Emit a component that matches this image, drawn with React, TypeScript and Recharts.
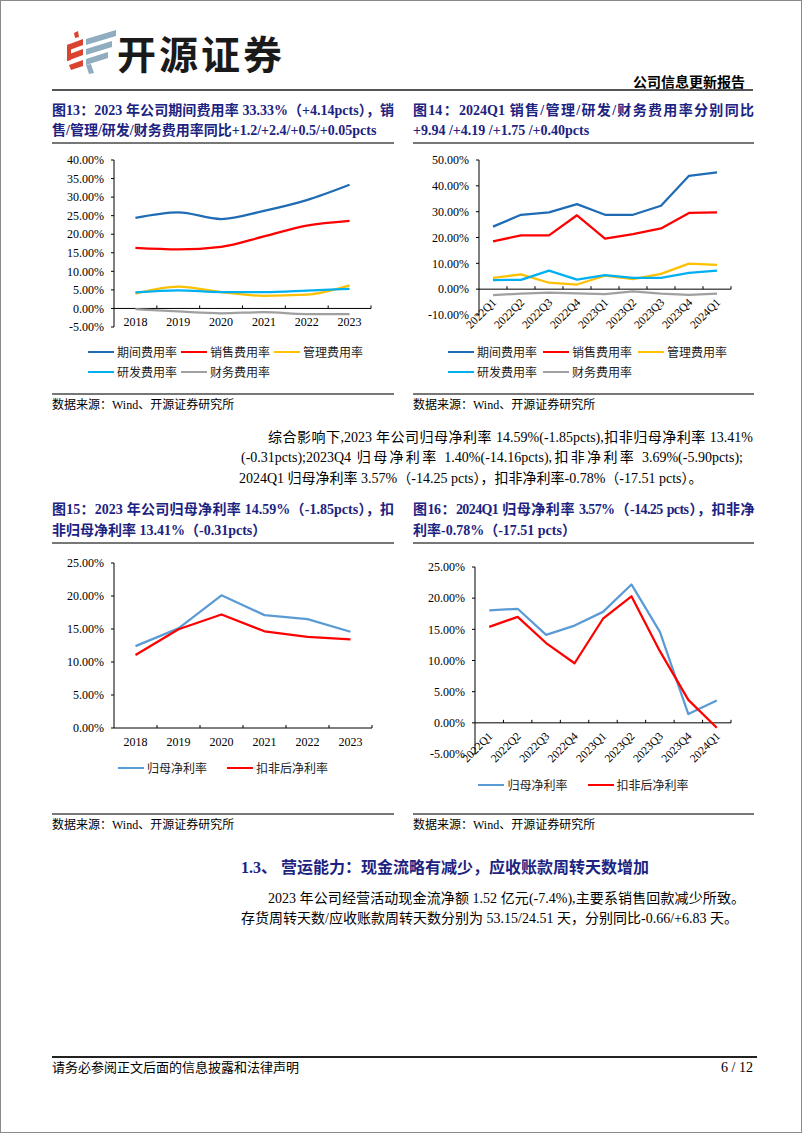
import React from "react";
import { LineChart, Line, XAxis, YAxis, ReferenceLine, Legend } from "recharts";

const SERIF = '"Liberation Serif", "Times New Roman", serif';
const CJK = '"Liberation Serif", "Noto Sans CJK SC", serif';
const NAVY = "#1c2381";

// categories
const years = ["2018", "2019", "2020", "2021", "2022", "2023"];
const quarters = ["2022Q1", "2022Q2", "2022Q3", "2022Q4", "2023Q1", "2023Q2", "2023Q3", "2023Q4", "2024Q1"];

// 图13 annual expense ratios (%)
const periodRateY = [24.4, 25.9, 24.1, 26.3, 29.2, 33.33];
const salesRateY = [16.3, 15.9, 16.6, 19.4, 22.3, 23.6];
const adminRateY = [4.0, 5.9, 4.4, 3.4, 3.7, 6.2];
const rdRateY = [4.3, 4.9, 4.4, 4.4, 4.8, 5.3];
const finRateY = [-0.2, -0.8, -1.3, -1.0, -1.5, -1.5];

// 图14 quarterly expense ratios (%)
const periodRateQ = [24.2, 28.8, 29.7, 32.9, 28.8, 28.8, 32.3, 43.9, 45.2];
const salesRateQ = [18.5, 20.8, 20.8, 28.6, 19.6, 21.3, 23.5, 29.5, 29.7];
const adminRateQ = [4.4, 5.7, 2.5, 1.8, 5.2, 3.9, 5.9, 9.9, 9.4];
const rdRateQ = [3.5, 3.6, 7.2, 3.7, 5.4, 4.4, 4.4, 6.3, 7.2];
const finRateQ = [-2.3, -1.7, -1.3, -1.6, -1.9, -0.9, -1.7, -2.2, -1.7];

// 图15 annual net margins (%)
const netMarginY = [12.4, 15.1, 20.1, 17.1, 16.5, 14.59];
const deductedMarginY = [11.05, 14.96, 17.2, 14.65, 13.8, 13.41];

// 图16 quarterly net margins (%)
const netMarginQ = [18.06, 18.3, 14.1, 15.6, 17.8, 22.2, 14.6, 1.4, 3.57];
const deductedMarginQ = [15.4, 17.0, 12.8, 9.56, 16.7, 20.3, 11.5, 3.69, -0.78];

// y ticks
const ticks13 = [-5, 0, 5, 10, 15, 20, 25, 30, 35, 40];
const ticks14 = [-10, 0, 10, 20, 30, 40, 50];
const ticks15 = [0, 5, 10, 15, 20, 25];
const ticks16 = [-5, 0, 5, 10, 15, 20, 25];

const expenseNames = ["期间费用率", "销售费用率", "管理费用率", "研发费用率", "财务费用率"];
const expenseColors = ["#1f6cb5", "#ff0000", "#ffc000", "#00b0f0", "#a0a0a0"];
const marginNames = ["归母净利率", "扣非后净利率"];
const marginColors = ["#5b9bd5", "#ff0000"];

type SeriesDef = { key: string; name: string; color: string; values: number[] };

type ChartProps = {
  categories: string[];
  series: SeriesDef[];
  width: number;
  height: number;
  top: number;
  bottom: number;
  right: number;
  yWidth: number;
  domain: [number, number];
  ticks: number[];
  xAxisHeight: number;
  legendHeight: number;
  legendPadLeft?: number;
  legendItemWidth?: number;
  legendCenter?: boolean;
  rotate?: boolean;
  curve?: "linear" | "monotone";
};

function RateChart(p: ChartProps) {
  const data = p.categories.map((c, i) => {
    const row: Record<string, string | number> = { name: c };
    p.series.forEach((s) => {
      row[s.key] = s.values[i];
    });
    return row;
  });

  const plotH = p.height - p.top - p.bottom - p.legendHeight - p.xAxisHeight;
  const plotW = p.width - p.yWidth - p.right;
  const band = plotW / p.categories.length;
  // category axis sits on the 0% line, not at the bottom of the plot
  const zeroShift = (plotH * (0 - p.domain[0])) / (p.domain[1] - p.domain[0]);

  const renderTick = (tp: any) => {
    const { x, y, payload } = tp;
    const zy = y - zeroShift;
    const mx = x + band / 2;
    return (
      <g>
        <line x1={mx} x2={mx} y1={zy} y2={zy - 3} stroke="#000" strokeWidth={1} />
        {p.rotate ? (
          <text
            x={x + 4}
            y={zy + 14}
            transform={`rotate(-45 ${x + 4} ${zy + 14})`}
            textAnchor="end"
            fontSize={11.5}
            fontFamily={SERIF}
            fill="#000"
          >
            {payload.value}
          </text>
        ) : (
          <text x={x} y={zy + 18} textAnchor="middle" fontSize={12} fontFamily={SERIF} fill="#000">
            {payload.value}
          </text>
        )}
      </g>
    );
  };

  const legend = () => (
    <div
      style={{
        height: p.legendHeight,
        display: "flex",
        flexWrap: "wrap",
        alignContent: "flex-start",
        justifyContent: p.legendCenter ? "center" : "flex-start",
        columnGap: p.legendCenter ? 20 : 0,
        paddingLeft: p.legendPadLeft ?? 0,
        boxSizing: "border-box",
      }}
    >
      {p.series.map((s) => (
        <div key={s.key} style={{ display: "flex", alignItems: "center", height: 20, width: p.legendItemWidth }}>
          <span style={{ display: "inline-block", width: 26, height: 0, borderTop: `2.5px solid ${s.color}`, marginRight: 3 }} />
          <span style={{ fontSize: 12, fontFamily: CJK, color: "#222", whiteSpace: "nowrap" }}>{s.name}</span>
        </div>
      ))}
    </div>
  );

  return (
    <LineChart width={p.width} height={p.height} data={data} margin={{ top: p.top, right: p.right, bottom: p.bottom, left: 0 }}>
      <XAxis
        dataKey="name"
        height={p.xAxisHeight}
        padding={{ left: band / 2, right: band / 2 }}
        axisLine={false}
        tickLine={false}
        tickSize={0}
        tickMargin={0}
        interval={0}
        tick={renderTick}
      />
      <YAxis
        width={p.yWidth}
        domain={p.domain}
        ticks={p.ticks}
        interval={0}
        axisLine={{ stroke: "#000" }}
        tickLine={{ stroke: "#000" }}
        tickSize={3}
        tickMargin={7}
        tick={{ fontSize: 12, fontFamily: SERIF, fill: "#000" }}
        tickFormatter={(v: number) => `${v.toFixed(2)}%`}
      />
      <ReferenceLine y={0} stroke="#000" strokeWidth={1} />
      {p.series.map((s) => (
        <Line
          key={s.key}
          dataKey={s.key}
          name={s.name}
          type={p.curve ?? "linear"}
          stroke={s.color}
          strokeWidth={2.25}
          strokeLinejoin="round"
          dot={false}
          activeDot={false}
          isAnimationActive={false}
        />
      ))}
      <Legend verticalAlign="bottom" content={legend} wrapperStyle={{ left: 0, width: p.width }} />
    </LineChart>
  );
}

const expenseSeries = (vals: number[][]): SeriesDef[] =>
  vals.map((v, i) => ({ key: `s${i}`, name: expenseNames[i], color: expenseColors[i], values: v }));
const marginSeries = (vals: number[][]): SeriesDef[] =>
  vals.map((v, i) => ({ key: `m${i}`, name: marginNames[i], color: marginColors[i], values: v }));

const Txt = ({ x, y, w, size = 14, bold = false, color = "#000", align = "left", justify = false, spacing = 0, family = CJK, children }: any) => (
  <div
    style={{
      position: "absolute",
      left: x,
      top: y - 10,
      width: w,
      height: 20,
      lineHeight: "20px",
      fontSize: size,
      fontWeight: bold ? 700 : 400,
      letterSpacing: spacing,
      color,
      fontFamily: family,
      textAlign: justify ? "justify" : align,
      textAlignLast: justify ? "justify" : align,
      whiteSpace: justify ? "normal" : "nowrap",
    }}
  >
    {children}
  </div>
);

const Rule = ({ x, y, w, h = 2, color = "#777" }: any) => (
  <div style={{ position: "absolute", left: x, top: y - h / 2, width: w, height: h, background: color }} />
);

const Box = ({ x, y, children }: any) => <div style={{ position: "absolute", left: x, top: y }}>{children}</div>;

const Logo = () => (
  <svg width={56} height={46} style={{ position: "absolute", left: 63, top: 28 }}>
    <polygon points="10,4 14,2 15,8 11,9" fill="#d9432f" />
    <polygon points="3,16 19,10 19,16 3,22" fill="#d9432f" />
    <polygon points="3,26 19,20 19,26 3,32" fill="#d9432f" />
    <polygon points="5,36 19,31 19,37 7,41" fill="#d9432f" />
    <polygon points="3,16 7,15 7,31 3,32" fill="#d9432f" />
    <polygon points="22,10 52,1 52,7 22,16" fill="#8fadbf" />
    <polygon points="22,20 48,12 48,18 22,26" fill="#8fadbf" />
    <polygon points="22,30 44,23 44,29 22,36" fill="#8fadbf" />
    <polygon points="22,36 27,35 30,44 25,45" fill="#8fadbf" />
  </svg>
);

export default function App() {
  return (
    <div
      style={{
        position: "absolute",
        left: 0,
        top: 0,
        width: 802,
        height: 1133,
        background: "#fff",
        border: "1px solid #8a8a8a",
        boxSizing: "border-box",
        overflow: "hidden",
      }}
    >
      <Logo />
      <div
        style={{
          position: "absolute",
          left: 116,
          top: 28,
          height: 46,
          lineHeight: "46px",
          fontSize: 39,
          fontWeight: 700,
          letterSpacing: 3,
          fontFamily: '"Noto Sans CJK SC", sans-serif',
          color: "#1a1a1a",
        }}
      >
        开源证券
      </div>
      <Txt x={560} y={82} w={184} size={14} bold align="right">公司信息更新报告</Txt>
      <Rule x={51} y={89} w={701} h={2} color="#555" />

      <Txt x={51} y={110} w={342} bold color={NAVY} justify>图13：2023 年公司期间费用率 33.33%（+4.14pcts），销</Txt>
      <Txt x={51} y={130} w={342} bold color={NAVY}>售/管理/研发/财务费用率同比+1.2/+2.4/+0.5/+0.05pcts</Txt>
      <Txt x={412} y={110} w={341} bold color={NAVY} justify>图14：2024Q1 销售/管理/研发/财务费用率分别同比</Txt>
      <Txt x={412} y={130} w={341} bold color={NAVY}>+9.94 /+4.19 /+1.75 /+0.40pcts</Txt>
      <Rule x={51} y={142} w={342} />
      <Rule x={412} y={142} w={341} />

      <Box x={51} y={150}>
        <RateChart
          categories={years}
          series={expenseSeries([periodRateY, salesRateY, adminRateY, rdRateY, finRateY])}
          width={342}
          height={240}
          top={9}
          bottom={9}
          right={23}
          yWidth={62}
          domain={[-5, 40]}
          ticks={ticks13}
          xAxisHeight={15}
          legendHeight={40}
          legendPadLeft={36}
          legendItemWidth={93}
          curve="monotone"
        />
      </Box>
      <Box x={412} y={150}>
        <RateChart
          categories={quarters}
          series={expenseSeries([periodRateQ, salesRateQ, adminRateQ, rdRateQ, finRateQ])}
          width={341}
          height={240}
          top={9}
          bottom={9}
          right={23}
          yWidth={66}
          domain={[-10, 50]}
          ticks={ticks14}
          xAxisHeight={27}
          legendHeight={40}
          legendPadLeft={35}
          legendItemWidth={95}
          rotate
        />
      </Box>

      <Rule x={51} y={393} w={342} />
      <Rule x={412} y={393} w={341} />
      <Txt x={51} y={404} w={300} size={12}>数据来源：Wind、开源证券研究所</Txt>
      <Txt x={412} y={404} w={300} size={12}>数据来源：Wind、开源证券研究所</Txt>

      <Txt x={267} y={437} w={485} justify>综合影响下,2023 年公司归母净利率 14.59%(-1.85pcts),扣非归母净利率 13.41%</Txt>
      <Txt x={240} y={457} w={502} justify>(-0.31pcts);2023Q4 归母净利率 1.40%(-14.16pcts),扣非净利率 3.69%(-5.90pcts);</Txt>
      <Txt x={238} y={478} w={500}>2024Q1 归母净利率 3.57%（-14.25 pcts），扣非净利率-0.78%（-17.51 pcts）。</Txt>

      <Txt x={51} y={509} w={342} bold color={NAVY} justify>图15：2023 年公司归母净利率 14.59%（-1.85pcts），扣</Txt>
      <Txt x={51} y={530} w={342} bold color={NAVY}>非归母净利率 13.41%（-0.31pcts）</Txt>
      <Txt x={412} y={509} w={341} size={14} spacing={-0.6} bold color={NAVY} justify>图16：2024Q1 归母净利率 3.57%（-14.25 pcts），扣非净</Txt>
      <Txt x={412} y={530} w={341} bold color={NAVY}>利率-0.78%（-17.51 pcts）</Txt>
      <Rule x={51} y={542} w={342} />
      <Rule x={412} y={542} w={341} />

      <Box x={51} y={552}>
        <RateChart
          categories={years}
          series={marginSeries([netMarginY, deductedMarginY])}
          width={342}
          height={232}
          top={10}
          bottom={7}
          right={22}
          yWidth={62}
          domain={[0, 25]}
          ticks={ticks15}
          xAxisHeight={30}
          legendHeight={20}
          legendCenter
        />
      </Box>
      <Box x={412} y={555}>
        <RateChart
          categories={quarters}
          series={marginSeries([netMarginQ, deductedMarginQ])}
          width={341}
          height={245}
          top={11}
          bottom={6}
          right={23}
          yWidth={62}
          domain={[-5, 25]}
          ticks={ticks16}
          xAxisHeight={21}
          legendHeight={20}
          legendCenter
          rotate
        />
      </Box>

      <Rule x={51} y={813} w={342} />
      <Rule x={412} y={813} w={341} />
      <Txt x={51} y={824} w={300} size={12}>数据来源：Wind、开源证券研究所</Txt>
      <Txt x={412} y={824} w={300} size={12}>数据来源：Wind、开源证券研究所</Txt>

      <Txt x={240} y={867} w={500} size={16} bold color={NAVY}>1.3、 营运能力：现金流略有减少，应收账款周转天数增加</Txt>
      <Txt x={267} y={898} w={477} justify>2023 年公司经营活动现金流净额 1.52 亿元(-7.4%),主要系销售回款减少所致。</Txt>
      <Txt x={240} y={918} w={497} justify>存货周转天数/应收账款周转天数分别为 53.15/24.51 天，分别同比-0.66/+6.83 天。</Txt>

      <Rule x={51} y={1056} w={705} h={2} color="#222" />
      <Txt x={51} y={1067} w={300} size={13}>请务必参阅正文后面的信息披露和法律声明</Txt>
      <Txt x={652} y={1067} w={100} size={14} align="right" family={SERIF}>6 / 12</Txt>
    </div>
  );
}
